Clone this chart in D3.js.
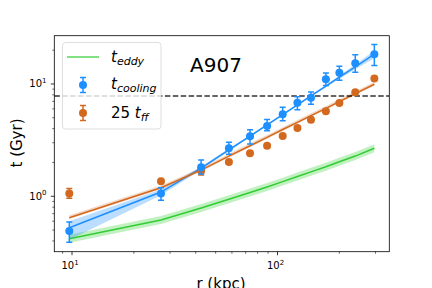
<!DOCTYPE html>
<html>
<head>
<meta charset="utf-8">
<script src="https://cdn.jsdelivr.net/npm/d3@7"></script>
<style>
  body { margin: 0; background: #fff; }
  svg { display: block; font-family: "DejaVu Sans", sans-serif; }
</style>
</head>
<body>
<div id="viz"></div>
<script>
// radii (kpc)
const radii = [9.7, 27.1, 42.5, 58, 73.5, 89, 106, 125, 145.5, 172, 200, 239, 296];

// t_cooling points + error bars
const tCool   = [0.49, 1.06, 1.81, 2.68, 3.42, 4.23, 5.37, 6.81, 7.55, 11.0, 12.6, 15.3, 18.4];
const tCoolHi = [0.59, 1.19, 2.10, 3.03, 3.92, 4.83, 6.20, 7.70, 8.50, 12.5, 14.4, 18.2, 22.5];
const tCoolLo = [0.39, 0.92, 1.58, 2.37, 2.92, 3.84, 4.70, 5.90, 6.60, 9.70, 10.8, 12.7, 14.6];

// 25 t_ff points + error bars
const tff   = [1.06, 1.36, 1.69, 2.02, 2.41, 2.82, 3.44, 4.06, 4.81, 5.71, 6.77, 8.44, 11.2];
const tffHi = [1.17, 1.41, 1.85, 2.08, 2.47, 2.88, 3.50, 4.12, 5.05, 5.80, 6.85, 8.55, 11.35];
const tffLo = [0.96, 1.31, 1.55, 1.96, 2.35, 2.76, 3.38, 4.00, 4.57, 5.62, 6.69, 8.33, 11.05];

// fitted curves
const coolFit   = [0.525, 1.09, 1.78, 2.59, 3.44, 4.32, 5.34, 6.50, 7.85, 9.55, 11.5, 14.2, 18.4];
const coolFitHi = [0.60, 1.15, 1.84, 2.66, 3.52, 4.40, 5.43, 6.62, 8.02, 9.80, 11.9, 14.9, 19.9];
const coolFitLo = [0.41, 1.02, 1.72, 2.52, 3.36, 4.24, 5.25, 6.38, 7.68, 9.30, 11.1, 13.5, 16.9];
const ffFit     = [0.645, 1.19, 1.71, 2.28, 2.82, 3.35, 3.93, 4.55, 5.23, 6.06, 6.97, 8.20, 9.94];

// t_eddy curve
const tEddy = [0.419, 0.615, 0.787, 0.94, 1.08, 1.21, 1.35, 1.50, 1.65, 1.83, 2.03, 2.28, 2.68];
const eddyBand = 1.085;

const tHeat = 7.8;
const xMajor = [10, 100];
const xMinor = [9, 20, 30, 40, 50, 60, 70, 80, 90, 200, 300];
const yMajor = [1, 10];
const yMinor = [0.4, 0.5, 0.6, 0.7, 0.8, 0.9, 2, 3, 4, 5, 6, 7, 8, 9, 20];

const W = 432, H = 288;
const blue = "#1e8fff", orange = "#d2691e", green = "#32cd32";

const svg = d3.select("#viz").append("svg")
  .attr("width", W).attr("height", H)
  .attr("viewBox", [0, 0, W, H]);

const x = d3.scaleLog().domain([8.2, 350]).range([54.3, 389.3]);
const y = d3.scaleLog().domain([0.321, 26.9]).range([251.7, 35.7]);

const idx = d3.range(radii.length);

svg.append("defs").append("clipPath").attr("id", "clip")
  .append("rect").attr("x", 54.3).attr("y", 35.7)
  .attr("width", 335).attr("height", 216);

const plot = svg.append("g").attr("clip-path", "url(#clip)");

const line = d3.line().x(i => x(radii[i]));
const area = d3.area().x(i => x(radii[i]));

// eddy band + line
plot.append("path")
  .attr("d", area.y0(i => y(tEddy[i] / eddyBand)).y1(i => y(tEddy[i] * eddyBand))(idx))
  .attr("fill", green).attr("opacity", 0.3);
plot.append("path")
  .attr("d", line.y(i => y(tEddy[i]))(idx))
  .attr("fill", "none").attr("stroke", green).attr("stroke-width", 1.5);

// cooling fit band + line
plot.append("path")
  .attr("d", area.y0(i => y(coolFitLo[i])).y1(i => y(coolFitHi[i]))(idx))
  .attr("fill", blue).attr("opacity", 0.3);
plot.append("path")
  .attr("d", line.y(i => y(coolFit[i]))(idx))
  .attr("fill", "none").attr("stroke", blue).attr("stroke-width", 1.5);

// free-fall fit
plot.append("path")
  .attr("d", area.y0(i => y(ffFit[i] / 1.03)).y1(i => y(ffFit[i] * 1.05))(idx))
  .attr("fill", orange).attr("opacity", 0.25);
plot.append("path")
  .attr("d", line.y(i => y(ffFit[i]))(idx))
  .attr("fill", "none").attr("stroke", orange).attr("stroke-width", 1.5);

// heating line
plot.append("line")
  .attr("x1", 54.3).attr("x2", 389.3)
  .attr("y1", y(tHeat)).attr("y2", y(tHeat))
  .attr("stroke", "#000").attr("stroke-width", 1.5)
  .attr("stroke-dasharray", "5.5,2.4").attr("opacity", 0.8);

function errPoints(vals, lo, hi, color) {
  const g = plot.append("g");
  idx.forEach(i => {
    const cx = x(radii[i]);
    g.append("line").attr("x1", cx).attr("x2", cx)
      .attr("y1", y(lo[i])).attr("y2", y(hi[i]))
      .attr("stroke", color).attr("stroke-width", 1.5);
    [lo[i], hi[i]].forEach(v => {
      g.append("line").attr("x1", cx - 3).attr("x2", cx + 3)
        .attr("y1", y(v)).attr("y2", y(v))
        .attr("stroke", color).attr("stroke-width", 1.5);
    });
    g.append("circle").attr("cx", cx).attr("cy", y(vals[i]))
      .attr("r", 4).attr("fill", color);
  });
}
errPoints(tff, tffLo, tffHi, orange);
errPoints(tCool, tCoolLo, tCoolHi, blue);

// frame
svg.append("rect")
  .attr("x", 54.3).attr("y", 35.7).attr("width", 335).attr("height", 216)
  .attr("fill", "none").attr("stroke", "#000").attr("stroke-width", 0.8);

// ticks
const ax = svg.append("g").attr("stroke", "#000").attr("stroke-width", 0.8);
xMajor.forEach(v => ax.append("line").attr("x1", x(v)).attr("x2", x(v)).attr("y1", 251.7).attr("y2", 255.2));
xMinor.forEach(v => ax.append("line").attr("x1", x(v)).attr("x2", x(v)).attr("y1", 251.7).attr("y2", 253.7).attr("stroke-width", 0.6));
yMajor.forEach(v => ax.append("line").attr("y1", y(v)).attr("y2", y(v)).attr("x1", 54.3).attr("x2", 50.8));
yMinor.forEach(v => ax.append("line").attr("y1", y(v)).attr("y2", y(v)).attr("x1", 54.3).attr("x2", 52.3).attr("stroke-width", 0.6));

function powLabel(sel, exp) {
  sel.append("tspan").text("10");
  sel.append("tspan").attr("font-size", 7).attr("dy", -4.5).text(exp);
}
xMajor.forEach(v => {
  const t = svg.append("text").attr("x", x(v) - 2).attr("y", 269)
    .attr("text-anchor", "middle").attr("font-size", 10).attr("fill", "#000");
  powLabel(t, Math.log10(v));
});
yMajor.forEach(v => {
  const t = svg.append("text").attr("x", 46.5).attr("y", y(v) + 3.5)
    .attr("text-anchor", "end").attr("font-size", 10).attr("fill", "#000");
  powLabel(t, Math.log10(v));
});

// axis labels
svg.append("text").attr("x", 221).attr("y", 289)
  .attr("text-anchor", "middle").attr("font-size", 15).text("r (kpc)");
svg.append("text").attr("transform", "translate(22,143) rotate(-90)")
  .attr("text-anchor", "middle").attr("font-size", 15).text("t (Gyr)");

// title
svg.append("text").attr("x", 190).attr("y", 72)
  .attr("font-size", 20).text("A907");

// legend
const lg = svg.append("g");
lg.append("rect").attr("x", 62.5).attr("y", 42.5).attr("width", 98.5).attr("height", 86.5)
  .attr("rx", 3).attr("fill", "#fff").attr("fill-opacity", 0.8)
  .attr("stroke", "#d5d5d5").attr("stroke-width", 0.8);

lg.append("line").attr("x1", 67).attr("x2", 99).attr("y1", 57).attr("y2", 57)
  .attr("stroke", green).attr("stroke-width", 1.5).attr("opacity", 0.8);

[[85, blue], [113, orange]].forEach(([cy, c]) => {
  lg.append("line").attr("x1", 83).attr("x2", 83).attr("y1", cy - 7.5).attr("y2", cy + 7.5)
    .attr("stroke", c).attr("stroke-width", 1.5);
  [cy - 7.5, cy + 7.5].forEach(yy => lg.append("line")
    .attr("x1", 80).attr("x2", 86).attr("y1", yy).attr("y2", yy)
    .attr("stroke", c).attr("stroke-width", 1.5));
  lg.append("circle").attr("cx", 83).attr("cy", cy).attr("r", 4).attr("fill", c);
});

function legText(yy, pre, sub) {
  const t = lg.append("text").attr("x", 111).attr("y", yy).attr("font-size", 15);
  if (pre) t.append("tspan").text(pre);
  t.append("tspan").attr("font-style", "italic").text("t");
  t.append("tspan").attr("font-style", "italic").attr("font-size", 11)
    .attr("dy", 3).text(sub);
}
legText(62, null, "eddy");
legText(89, null, "cooling");
legText(118, "25 ", "ff");
</script>
</body>
</html>
